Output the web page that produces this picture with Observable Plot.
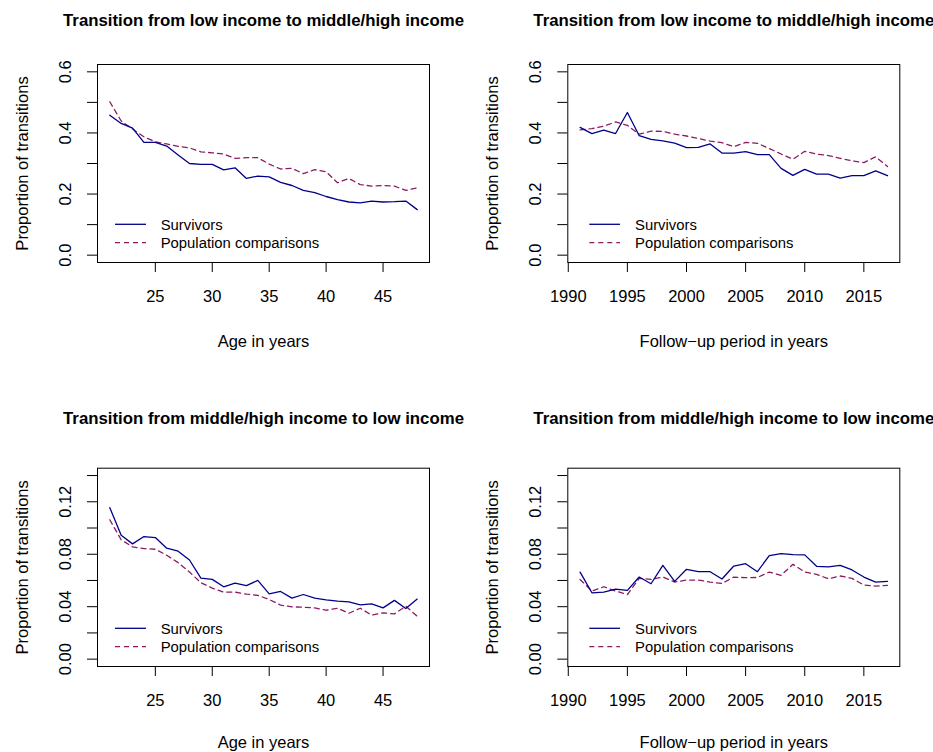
<!DOCTYPE html>
<html>
<head>
<meta charset="utf-8">
<script src="https://cdn.jsdelivr.net/npm/d3@7"></script>
<script src="https://cdn.jsdelivr.net/npm/@observablehq/plot@0.6"></script>
<style>
  html, body { margin: 0; padding: 0; background: white; overflow: hidden; }
  #wrap { position: relative; width: 933px; height: 752px; overflow: hidden; }
  svg { overflow: hidden; }
</style>
</head>
<body>
<div id="wrap"></div>
<script>
// ---- Data ----
const ages = [21,22,23,24,25,26,27,28,29,30,31,32,33,34,35,36,37,38,39,40,41,42,43,44,45,46,47,48];
const years = [1991,1992,1993,1994,1995,1996,1997,1998,1999,2000,2001,2002,2003,2004,2005,2006,2007,2008,2009,2010,2011,2012,2013,2014,2015,2016,2017];

const lowToHighAgeSurv = [0.458,0.431,0.416,0.369,0.369,0.357,0.328,0.300,0.297,0.297,0.279,0.286,0.251,0.259,0.256,0.238,0.228,0.212,0.205,0.192,0.182,0.174,0.171,0.177,0.174,0.175,0.177,0.149];
const lowToHighAgePop  = [0.502,0.439,0.413,0.387,0.371,0.364,0.356,0.351,0.338,0.335,0.331,0.317,0.319,0.319,0.298,0.282,0.284,0.267,0.280,0.273,0.237,0.251,0.231,0.226,0.228,0.226,0.212,0.220];

const lowToHighYearSurv = [0.418,0.398,0.409,0.398,0.467,0.391,0.379,0.374,0.367,0.352,0.353,0.364,0.334,0.334,0.339,0.329,0.329,0.284,0.261,0.281,0.265,0.265,0.252,0.260,0.260,0.276,0.260];
const lowToHighYearPop  = [0.410,0.414,0.422,0.436,0.425,0.396,0.406,0.405,0.396,0.390,0.382,0.373,0.368,0.355,0.369,0.366,0.349,0.331,0.314,0.340,0.331,0.326,0.317,0.309,0.303,0.322,0.290];

const highToLowAgeSurv = [0.1155,0.0945,0.0879,0.0935,0.0927,0.0846,0.0823,0.0756,0.0618,0.0608,0.0552,0.0580,0.0560,0.0601,0.0498,0.0516,0.0465,0.0493,0.0465,0.0452,0.0442,0.0437,0.0414,0.0422,0.0391,0.0448,0.0386,0.0458];
const highToLowAgePop  = [0.1063,0.0910,0.0856,0.0843,0.0838,0.0792,0.0736,0.0664,0.0583,0.0542,0.0511,0.0511,0.0496,0.0486,0.0455,0.0412,0.0399,0.0396,0.0391,0.0373,0.0388,0.0350,0.0388,0.0335,0.0353,0.0345,0.0404,0.0327];

const highToLowYearSurv = [0.0664,0.0506,0.0511,0.0534,0.0524,0.0626,0.0575,0.0715,0.0593,0.0685,0.0667,0.0667,0.0611,0.0710,0.0728,0.0667,0.0790,0.0805,0.0797,0.0795,0.0708,0.0703,0.0715,0.0680,0.0626,0.0588,0.0593];
const highToLowYearPop  = [0.0608,0.0519,0.0552,0.0519,0.0493,0.0616,0.0608,0.0626,0.0588,0.0603,0.0603,0.0588,0.0577,0.0626,0.0621,0.0623,0.0664,0.0639,0.0723,0.0664,0.0646,0.0613,0.0634,0.0616,0.0565,0.0557,0.0562];

const ageTicks = [25,30,35,40,45];
const yearTicks = [1990,1995,2000,2005,2010,2015];
const yTicksTop = [0,0.1,0.2,0.3,0.4,0.5,0.6];
const yTicksBottom = [0,0.02,0.04,0.06,0.08,0.10,0.12,0.14];

const titleTop = "Transition from low income to middle/high income";
const titleBottom = "Transition from middle/high income to low income";
const xLabAge = "Age in years";
const xLabYear = "Follow\u2212up period in years";
const yLab = "Proportion of transitions";
const seriesNames = ["Survivors", "Population comparisons"];

// ---- Styles ----
const colSurv = "#00008B";
const colPop = "#8B1C62";
const dashPop = "5,4";
const FONT = "'Liberation Sans', Arial, Helvetica, sans-serif";

function legendMark(lineX1, lineX2, textX) {
  return (index, scales, values, dims) => {
    const g = d3.create("svg:g");
    const left = dims.marginLeft;
    const bottom = dims.height - dims.marginBottom;
    const items = [
      {label: seriesNames[0], color: colSurv, dash: null, off: -37.7},
      {label: seriesNames[1], color: colPop, dash: dashPop, off: -19.3}
    ];
    for (const it of items) {
      g.append("line")
        .attr("x1", left + lineX1).attr("x2", left + lineX2)
        .attr("y1", bottom + it.off).attr("y2", bottom + it.off)
        .attr("stroke", it.color).attr("stroke-width", 1.3)
        .attr("stroke-dasharray", it.dash);
      g.append("text")
        .attr("x", left + textX).attr("y", bottom + it.off + 5.3)
        .attr("font-size", 14.85).attr("fill", "black")
        .attr("text-anchor", "start")
        .text(it.label);
    }
    return g.node();
  };
}

function panel({xs, surv, pop, xDomain, yDomain, xTicks, yTicks, yFmt, title, titleDy, xLab, xLabDy,
                width, height, mL, mR, mT, mB, leg}) {
  const dS = xs.map((x, i) => ({x, y: surv[i]}));
  const dP = xs.map((x, i) => ({x, y: pop[i]}));
  return Plot.plot({
    width, height,
    marginLeft: mL, marginRight: mR, marginTop: mT, marginBottom: mB,
    style: {fontFamily: FONT, fontSize: "16.5px", color: "black", background: "white", overflow: "hidden"},
    x: {domain: xDomain, axis: null, label: null},
    y: {domain: yDomain, axis: null, label: null},
    marks: [
      Plot.axisX({ticks: xTicks, tickSize: 10, tickPadding: 18, fontSize: 16.5, tickFormat: d => String(d), label: null}),
      Plot.axisY({ticks: yTicks, tickSize: 10, tickPadding: 17, tickRotate: -90, fontSize: 16.5, tickFormat: yFmt, label: null}),
      Plot.lineY(dP, {x: "x", y: "y", stroke: colPop, strokeWidth: 1.3, strokeDasharray: dashPop}),
      Plot.lineY(dS, {x: "x", y: "y", stroke: colSurv, strokeWidth: 1.3}),
      Plot.frame({stroke: "black", strokeWidth: 1}),
      Plot.text([title], {text: d => d, frameAnchor: "top", dy: titleDy, lineAnchor: "bottom", textAnchor: "middle", fontWeight: "bold", fontSize: 16.8}),
      Plot.text([xLab], {text: d => d, frameAnchor: "bottom", dy: xLabDy, lineAnchor: "bottom", textAnchor: "middle", fontSize: 16.5}),
      Plot.text([yLab], {text: d => d, frameAnchor: "left", dx: -69.5, rotate: -90, lineAnchor: "bottom", textAnchor: "middle", fontSize: 16.5}),
      legendMark(...leg)
    ]
  });
}

const fmtTop = d => (Math.round(d * 10) % 2 === 0) ? d.toFixed(1) : "";
const fmtBottom = d => (Math.round(d * 100) % 4 === 0) ? d.toFixed(2) : "";

const ageDomain = [19.92, 49.08];
const yearDomain = [1989.96, 2018.04];
const yDomTop = [-0.024, 0.624];
const yDomBottom = [-0.0056, 0.1456];

const specs = [
  {left: 0, top: 0, opts: {xs: ages, surv: lowToHighAgeSurv, pop: lowToHighAgePop, xDomain: ageDomain, yDomain: yDomTop,
    xTicks: ageTicks, yTicks: yTicksTop, yFmt: fmtTop, title: titleTop, titleDy: -39, xLab: xLabAge, xLabDy: 84,
    width: 466, height: 376, mL: 97, mR: 37, mT: 64, mB: 114, leg: [18, 49, 63.7]}},
  {left: 466, top: 0, opts: {xs: years, surv: lowToHighYearSurv, pop: lowToHighYearPop, xDomain: yearDomain, yDomain: yDomTop,
    xTicks: yearTicks, yTicks: yTicksTop, yFmt: fmtTop, title: titleTop, titleDy: -39, xLab: xLabYear, xLabDy: 84,
    width: 467, height: 376, mL: 101.3, mR: 33.7, mT: 64, mB: 114, leg: [22, 52.7, 67.7]}},
  {left: 0, top: 376, opts: {xs: ages, surv: highToLowAgeSurv, pop: highToLowAgePop, xDomain: ageDomain, yDomain: yDomBottom,
    xTicks: ageTicks, yTicks: yTicksBottom, yFmt: fmtBottom, title: titleBottom, titleDy: -44, xLab: xLabAge, xLabDy: 81,
    width: 466, height: 376, mL: 97, mR: 37, mT: 91.7, mB: 86, leg: [18, 49, 63.7]}},
  {left: 466, top: 376, opts: {xs: years, surv: highToLowYearSurv, pop: highToLowYearPop, xDomain: yearDomain, yDomain: yDomBottom,
    xTicks: yearTicks, yTicks: yTicksBottom, yFmt: fmtBottom, title: titleBottom, titleDy: -44, xLab: xLabYear, xLabDy: 81,
    width: 467, height: 376, mL: 101.3, mR: 33.7, mT: 91.7, mB: 86, leg: [22, 52.7, 67.7]}}
];

const wrap = document.getElementById("wrap");
for (const s of specs) {
  const el = panel(s.opts);
  el.style.position = "absolute";
  el.style.left = s.left + "px";
  el.style.top = s.top + "px";
  wrap.appendChild(el);
}
</script>
</body>
</html>
